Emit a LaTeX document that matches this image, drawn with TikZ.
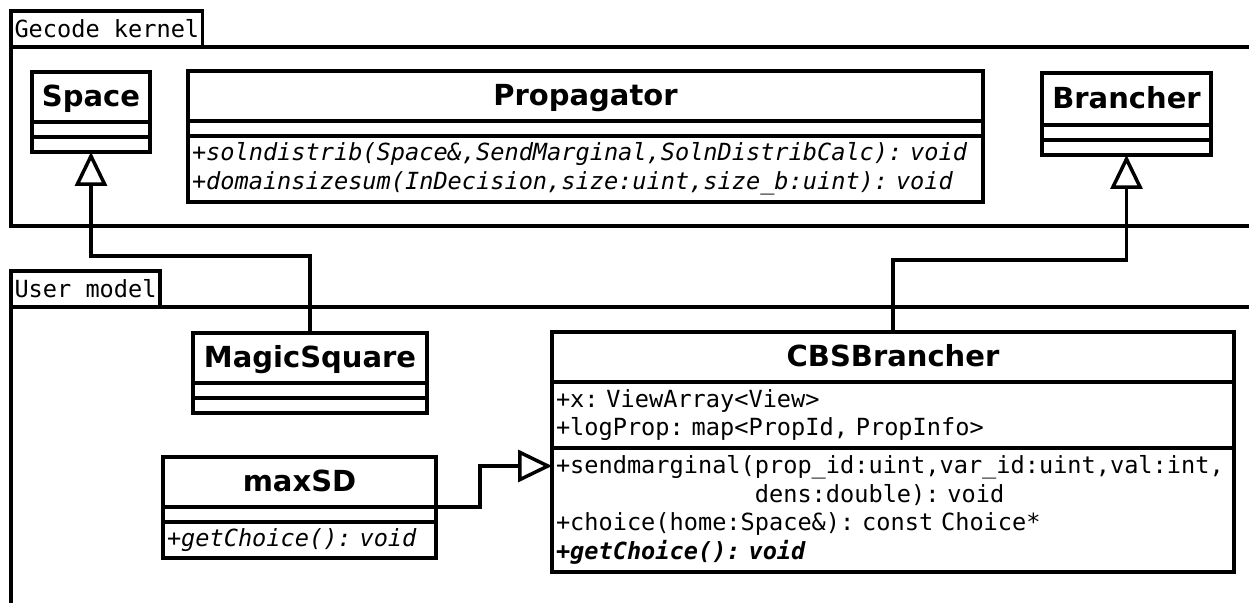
\documentclass[tikz,border=0pt]{standalone}
\usepackage{fontspec}
\setsansfont{DejaVu Sans}
\setmonofont{DejaVu Sans Mono}
\usetikzlibrary{arrows.meta,positioning,calc}

% monospaced text with spaces as wide as the letters
\newcommand\monotext[1]{\ttfamily#1\fontsize{11.8}{14.25}\selectfont\spaceskip=\fontcharwd\font`x\relax}

\tikzset{
    classname/.style={draw, anchor=north west, inner sep=0pt, outer sep=0pt,
        minimum height=25pt, text height=11pt, text depth=1pt,
        font=\sffamily\bfseries\fontsize{14.5}{17}\selectfont},
    members/.style={draw, anchor=north west, inner xsep=2pt, inner ysep=0pt, outer sep=0pt,
        minimum height=7.5pt, align=left, font=\monotext{}},
    abstract/.style={members, font=\monotext{\itshape}},
    pkgtab/.style={draw, anchor=south west, inner xsep=1.75pt, inner ysep=0pt, outer sep=0pt,
        minimum height=18pt, font=\monotext{}},
    inherit/.style={-{Triangle[open, length=17pt, width=16pt]}},
}

\begin{document}
\begin{tikzpicture}[x=0.5pt, y=-0.5pt, line width=1.75pt]
    \useasboundingbox (0,0) rectangle (1249,603);

    % Packages
    \node[pkgtab] (kernel) at (11,47) {Gecode~kernel};
    \draw (kernel.south west) rectangle (1270,226);
    \node[pkgtab] (user) at (11,307) {User~model};
    \draw (user.south west) rectangle (1270,630);

    % Kernel classes
    \node[classname, minimum width=59pt] (space) at (32,72) {Space};
    \node[members, minimum width=59pt] (space-a) at (space.south west) {};
    \node[members, minimum width=59pt] (space-m) at (space-a.south west) {};

    \node[classname, minimum width=397.5pt] (prop) at (188,71) {Propagator};
    \node[members, minimum width=397.5pt] (prop-a) at (prop.south west) {};
    \node[abstract, text width=393.5pt, minimum height=33pt] (prop-m) at (prop-a.south west)
        {+solndistrib(Space\&,SendMarginal,SolnDistribCalc):~void\\
         +domainsizesum(InDecision,size:uint,size\_b:uint):~void};

    \node[classname, minimum width=84.5pt, minimum height=26pt] (brancher) at (1042,73) {Brancher};
    \node[members, minimum width=84.5pt] (brancher-a) at (brancher.south west) {};
    \node[members, minimum width=84.5pt] (brancher-m) at (brancher-a.south west) {};

    % User classes
    \node[classname, minimum width=117pt] (magic) at (193,333) {MagicSquare};
    \node[members, minimum width=117pt] (magic-a) at (magic.south west) {};
    \node[members, minimum width=117pt] (magic-m) at (magic-a.south west) {};

    \node[classname, minimum width=136.5pt] (maxsd) at (163,457) {maxSD};
    \node[members, minimum width=136.5pt] (maxsd-a) at (maxsd.south west) {};
    \node[abstract, text width=132.5pt, minimum height=18pt] (maxsd-m) at (maxsd-a.south west)
        {+getChoice():~void};

    \node[classname, minimum width=341pt] (cbs) at (552,332) {CBSBrancher};
    \node[members, text width=337pt, minimum height=33pt] (cbs-a) at (cbs.south west)
        {+x:~ViewArray<View>\\
         +logProp:~map<PropId,~PropInfo>};
    \node[members, text width=337pt, minimum height=62pt] (cbs-m) at (cbs-a.south west)
        {+sendmarginal(prop\_id:uint,var\_id:uint,val:int,\\
         \hphantom{+sendmarginal(}dens:double):~void\\
         +choice(home:Space\&):~const~Choice*\\
         {\bfseries\itshape +getChoice():~void}};

    % Generalisations
    \draw[inherit] (magic.north) -- ++(0,-77) -| (space-m.south);
    \draw[inherit] (cbs.north) -- ++(0,-72) -| (brancher-m.south);
    \draw[inherit] (maxsd.south east) -- ++(44,0) |- ($(cbs-m.north west)+(0,18)$);
\end{tikzpicture}
\end{document}
